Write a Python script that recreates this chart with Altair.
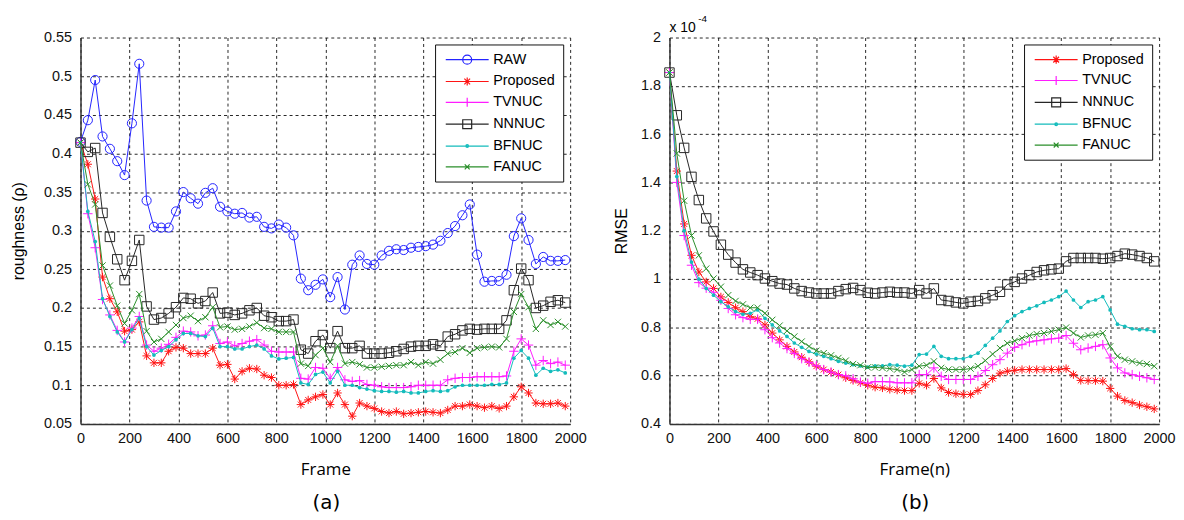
import altair as alt
import pandas as pd

# ---------------- data ----------------
FRAMES = list(range(0, 1981, 30))
X_TICKS = [0, 200, 400, 600, 800, 1000, 1200, 1400, 1600, 1800, 2000]
Y_TICKS_A = [0.05, 0.1, 0.15, 0.2, 0.25, 0.3, 0.35, 0.4, 0.45, 0.5, 0.55]
Y_TICKS_B = [0.4, 0.6, 0.8, 1.0, 1.2, 1.4, 1.6, 1.8, 2.0]

NAMES_A = ["RAW", "Proposed", "TVNUC", "NNNUC", "BFNUC", "FANUC"]
NAMES_B = ["Proposed", "TVNUC", "NNNUC", "BFNUC", "FANUC"]

RAW_A = [0.415, 0.443, 0.495, 0.422, 0.406, 0.390, 0.372, 0.439, 0.516, 0.339,
         0.305, 0.304, 0.304, 0.325, 0.350, 0.342, 0.335, 0.349, 0.355, 0.331,
         0.325, 0.322, 0.323, 0.317, 0.318, 0.305, 0.303, 0.308, 0.304, 0.294,
         0.238, 0.223, 0.230, 0.237, 0.214, 0.240, 0.198, 0.256, 0.268, 0.257,
         0.256, 0.268, 0.274, 0.276, 0.275, 0.278, 0.279, 0.280, 0.282, 0.287,
         0.297, 0.306, 0.320, 0.334, 0.269, 0.234, 0.235, 0.235, 0.243, 0.293,
         0.316, 0.288, 0.257, 0.266, 0.261, 0.261, 0.262]
PROPOSED_A = [0.414, 0.386, 0.341, 0.240, 0.212, 0.195, 0.170, 0.172, 0.182, 0.138,
              0.129, 0.129, 0.144, 0.149, 0.148, 0.141, 0.141, 0.141, 0.148, 0.126,
              0.127, 0.108, 0.118, 0.122, 0.121, 0.113, 0.110, 0.100, 0.100, 0.101,
              0.075, 0.081, 0.085, 0.088, 0.075, 0.090, 0.075, 0.060, 0.077, 0.073,
              0.070, 0.066, 0.064, 0.066, 0.063, 0.064, 0.065, 0.066, 0.065, 0.064,
              0.068, 0.073, 0.073, 0.075, 0.073, 0.071, 0.073, 0.070, 0.073, 0.085,
              0.098, 0.090, 0.077, 0.076, 0.076, 0.077, 0.073]
TVNUC_A = [0.414, 0.322, 0.278, 0.211, 0.191, 0.171, 0.156, 0.174, 0.189, 0.152,
           0.144, 0.148, 0.153, 0.162, 0.170, 0.169, 0.164, 0.165, 0.177, 0.154,
           0.156, 0.151, 0.154, 0.157, 0.159, 0.152, 0.144, 0.143, 0.143, 0.143,
           0.109, 0.108, 0.123, 0.122, 0.109, 0.123, 0.107, 0.105, 0.106, 0.101,
           0.100, 0.098, 0.097, 0.097, 0.097, 0.098, 0.100, 0.100, 0.100, 0.100,
           0.107, 0.109, 0.110, 0.110, 0.111, 0.111, 0.111, 0.111, 0.112, 0.144,
           0.160, 0.152, 0.126, 0.132, 0.128, 0.130, 0.126]
NNNUC_A = [0.414, 0.402, 0.407, 0.323, 0.292, 0.263, 0.236, 0.261, 0.288, 0.202,
           0.185, 0.187, 0.193, 0.201, 0.213, 0.212, 0.206, 0.209, 0.220, 0.193,
           0.194, 0.191, 0.193, 0.197, 0.200, 0.190, 0.188, 0.183, 0.183, 0.185,
           0.146, 0.141, 0.157, 0.165, 0.148, 0.170, 0.148, 0.148, 0.151, 0.141,
           0.141, 0.141, 0.142, 0.144, 0.147, 0.150, 0.151, 0.151, 0.153, 0.151,
           0.163, 0.166, 0.171, 0.173, 0.172, 0.173, 0.173, 0.173, 0.184, 0.223,
           0.251, 0.236, 0.200, 0.203, 0.208, 0.210, 0.207]
BFNUC_A = [0.414, 0.325, 0.286, 0.212, 0.189, 0.169, 0.156, 0.172, 0.187, 0.150,
           0.139, 0.145, 0.150, 0.159, 0.167, 0.167, 0.164, 0.163, 0.174, 0.150,
           0.150, 0.147, 0.147, 0.150, 0.152, 0.147, 0.138, 0.134, 0.135, 0.136,
           0.103, 0.101, 0.114, 0.117, 0.103, 0.118, 0.100, 0.100, 0.097, 0.095,
           0.093, 0.092, 0.092, 0.091, 0.092, 0.090, 0.090, 0.092, 0.093, 0.092,
           0.093, 0.098, 0.100, 0.100, 0.100, 0.100, 0.101, 0.101, 0.103, 0.135,
           0.145, 0.135, 0.113, 0.122, 0.118, 0.120, 0.116]
FANUC_A = [0.414, 0.360, 0.334, 0.255, 0.229, 0.203, 0.180, 0.197, 0.218, 0.170,
           0.156, 0.160, 0.169, 0.178, 0.187, 0.190, 0.183, 0.188, 0.201, 0.175,
           0.176, 0.172, 0.173, 0.176, 0.181, 0.174, 0.173, 0.169, 0.169, 0.169,
           0.128, 0.125, 0.139, 0.148, 0.130, 0.151, 0.128, 0.130, 0.127, 0.123,
           0.123, 0.124, 0.125, 0.126, 0.126, 0.130, 0.126, 0.130, 0.128, 0.133,
           0.141, 0.143, 0.148, 0.142, 0.148, 0.149, 0.150, 0.149, 0.160, 0.195,
           0.218, 0.201, 0.173, 0.184, 0.178, 0.182, 0.176]

# panel (b): RMSE in units of 1e-4
PROPOSED_B = [1.855, 1.447, 1.228, 1.098, 1.029, 0.988, 0.961, 0.926, 0.903, 0.881,
              0.865, 0.844, 0.835, 0.810, 0.776, 0.748, 0.721, 0.698, 0.676, 0.657,
              0.639, 0.625, 0.615, 0.604, 0.591, 0.580, 0.570, 0.560, 0.552, 0.549,
              0.543, 0.540, 0.538, 0.538, 0.568, 0.560, 0.588, 0.549, 0.530, 0.525,
              0.522, 0.522, 0.538, 0.562, 0.588, 0.610, 0.618, 0.622, 0.625, 0.625,
              0.625, 0.625, 0.625, 0.625, 0.629, 0.604, 0.580, 0.579, 0.579, 0.577,
              0.547, 0.515, 0.497, 0.488, 0.478, 0.471, 0.462]
TVNUC_B = [1.855, 1.400, 1.180, 1.057, 0.985, 0.962, 0.945, 0.912, 0.878, 0.852,
           0.840, 0.833, 0.833, 0.790, 0.757, 0.735, 0.712, 0.692, 0.670, 0.655,
           0.641, 0.625, 0.614, 0.604, 0.599, 0.587, 0.573, 0.568, 0.575, 0.575,
           0.574, 0.570, 0.570, 0.570, 0.604, 0.604, 0.632, 0.597, 0.584, 0.584,
           0.584, 0.584, 0.597, 0.621, 0.645, 0.666, 0.693, 0.717, 0.728, 0.739,
           0.744, 0.748, 0.752, 0.755, 0.766, 0.734, 0.707, 0.714, 0.721, 0.728,
           0.673, 0.632, 0.611, 0.604, 0.597, 0.591, 0.584]
NNNUC_B = [1.855, 1.678, 1.543, 1.423, 1.327, 1.251, 1.197, 1.142, 1.101, 1.068,
           1.040, 1.027, 1.016, 1.002, 0.991, 0.981, 0.977, 0.961, 0.950, 0.944,
           0.940, 0.940, 0.940, 0.950, 0.958, 0.963, 0.954, 0.943, 0.940, 0.944,
           0.947, 0.944, 0.944, 0.940, 0.954, 0.940, 0.961, 0.913, 0.909, 0.903,
           0.899, 0.906, 0.909, 0.920, 0.933, 0.947, 0.977, 0.988, 1.002, 1.016,
           1.029, 1.036, 1.040, 1.043, 1.073, 1.087, 1.087, 1.087, 1.087, 1.084,
           1.087, 1.095, 1.105, 1.101, 1.095, 1.087, 1.073]
BFNUC_B = [1.855, 1.424, 1.200, 1.070, 1.000, 0.961, 0.933, 0.906, 0.885, 0.865,
           0.854, 0.858, 0.872, 0.837, 0.810, 0.785, 0.762, 0.735, 0.717, 0.700,
           0.689, 0.680, 0.670, 0.659, 0.652, 0.645, 0.640, 0.635, 0.640, 0.640,
           0.645, 0.643, 0.639, 0.643, 0.687, 0.689, 0.721, 0.680, 0.670, 0.670,
           0.670, 0.680, 0.693, 0.725, 0.755, 0.785, 0.824, 0.848, 0.865, 0.878,
           0.889, 0.903, 0.913, 0.927, 0.950, 0.913, 0.882, 0.906, 0.913, 0.927,
           0.872, 0.813, 0.804, 0.794, 0.790, 0.790, 0.783]
FANUC_B = [1.855, 1.520, 1.324, 1.180, 1.098, 1.043, 1.002, 0.968, 0.933, 0.909,
           0.895, 0.881, 0.881, 0.858, 0.831, 0.807, 0.785, 0.762, 0.741, 0.721,
           0.703, 0.693, 0.684, 0.673, 0.662, 0.648, 0.643, 0.634, 0.634, 0.632,
           0.629, 0.625, 0.615, 0.625, 0.639, 0.643, 0.659, 0.632, 0.625, 0.625,
           0.625, 0.629, 0.639, 0.662, 0.689, 0.714, 0.734, 0.744, 0.755, 0.766,
           0.772, 0.776, 0.783, 0.790, 0.799, 0.776, 0.758, 0.766, 0.769, 0.776,
           0.721, 0.680, 0.666, 0.659, 0.652, 0.648, 0.639]

PANEL_TAGS = ["(a)", "(b)"]
X_TITLES = ["Frame", "Frame(n)"]
Y_TITLES = ["roughness (\u03c1)", "RMSE"]
EXPONENT = ["x 10", "-4"]

# ---------------- styles ----------------
COLOR = {"RAW": "#2424ff", "Proposed": "#ff1414", "TVNUC": "#ff1cff",
         "NNNUC": "#262626", "BFNUC": "#14bcbc", "FANUC": "#2b8f2b"}

STAR = "M-1,0H1M0,-1V1M-0.71,-0.71L0.71,0.71M-0.71,0.71L0.71,-0.71"
PLUS = "M-1,0H1M0,-1V1"
XMARK = "M-1,-1L1,1M-1,1L1,-1"
MARK = {"RAW": ("circle", 85, False), "Proposed": (STAR, 70, False),
        "TVNUC": (PLUS, 90, False), "NNNUC": ("square", 90, False),
        "BFNUC": ("circle", 14, True), "FANUC": (XMARK, 40, False)}

LINE = "M-1,0H8.6"
LEG_PATH = {
    "RAW": LINE + "M2.8,0A1,1 0 1,1 4.8,0A1,1 0 1,1 2.8,0",
    "Proposed": LINE + "M3.8,-0.9V0.9M3.16,-0.64L4.44,0.64M3.16,0.64L4.44,-0.64",
    "TVNUC": LINE + "M3.8,-1V1",
    "NNNUC": LINE + "M2.8,-1H4.8V1H2.8Z",
    "BFNUC": LINE + "M3.5,0A0.3,0.3 0 1,1 4.1,0A0.3,0.3 0 1,1 3.5,0",
    "FANUC": LINE + "M3.25,-0.55L4.35,0.55M3.25,0.55L4.35,-0.55",
}

W, H = 493, 389


def long_df(names, arrays):
    rows = []
    for n, arr in zip(names, arrays):
        for f, v in zip(FRAMES, arr):
            rows.append({"series": n, "frame": f, "value": v})
    return pd.DataFrame(rows)


def panel(df, names, ydom, yvals, yfmt, ytitle, ytitlex, xtitle, tag, extra):
    x = alt.X("frame:Q", scale=alt.Scale(domain=[0, 2000], nice=False, zero=False),
              axis=alt.Axis(values=X_TICKS, format="d", title=xtitle,
                            titleFont="Open Sans", titleFontSize=17,
                            titleFontWeight="normal", titleColor="black",
                            titleY=51, titleBaseline="alphabetic",
                            labelPadding=8))
    y = alt.Y("value:Q", scale=alt.Scale(domain=ydom, nice=False, zero=False),
              axis=alt.Axis(values=yvals, format=yfmt, title=ytitle,
                            titleFont="Liberation Sans", titleFontSize=16,
                            titleFontWeight="normal", titleColor="black",
                            titleX=ytitlex, titleY=H / 2, labelPadding=9))
    base = alt.Chart(df)
    layers = []
    for s in names:
        sub = base.transform_filter(alt.datum.series == s)
        layers.append(sub.mark_line(color=COLOR[s], strokeWidth=1).encode(x=x, y=y))
        shape, size, filled = MARK[s]
        layers.append(sub.mark_point(shape=shape, size=size, filled=filled,
                                     color=COLOR[s], strokeWidth=1, opacity=1)
                      .encode(x=x, y=y))
    leg = alt.Legend(title=None, orient="top-right", offset=7,
                     strokeColor="#111", fillColor="white", padding=8,
                     rowPadding=6, labelFont="Liberation Sans",
                     labelFontSize=14.5, labelColor="black", labelOffset=36,
                     symbolSize=81, symbolStrokeWidth=1.2)
    leg_layer = base.transform_filter("false").mark_point(
        filled=False, opacity=1, strokeWidth=1.2).encode(
        x=x, y=y,
        color=alt.Color("series:N", scale=alt.Scale(domain=names,
                        range=[COLOR[s] for s in names]), legend=leg),
        shape=alt.Shape("series:N", scale=alt.Scale(domain=names,
                        range=[LEG_PATH[s] for s in names]), legend=leg))
    lab = alt.Chart(pd.DataFrame({"t": [tag]})).mark_text(
        font="DejaVu Sans", fontSize=20, baseline="alphabetic", color="black"
    ).encode(text="t:N", x=alt.value(W / 2 + 1), y=alt.value(H + 86))
    return alt.layer(*layers, leg_layer, lab, *extra).properties(width=W, height=H)


df_a = long_df(NAMES_A, [RAW_A, PROPOSED_A, TVNUC_A, NNNUC_A, BFNUC_A, FANUC_A])
df_b = long_df(NAMES_B, [PROPOSED_B, TVNUC_B, NNNUC_B, BFNUC_B, FANUC_B])

exp1 = alt.Chart(pd.DataFrame({"t": [EXPONENT[0]]})).mark_text(
    font="Liberation Sans", fontSize=14, align="left", baseline="alphabetic",
    color="black").encode(text="t:N", x=alt.value(0), y=alt.value(-6))
exp2 = alt.Chart(pd.DataFrame({"t": [EXPONENT[1]]})).mark_text(
    font="Liberation Sans", fontSize=10, align="left", baseline="alphabetic",
    color="black").encode(text="t:N", x=alt.value(29), y=alt.value(-16))

pa = panel(df_a, NAMES_A, [0.05, 0.55], Y_TICKS_A, ".2~f", Y_TITLES[0], -54,
           X_TITLES[0], PANEL_TAGS[0], [])
pb = panel(df_b, NAMES_B, [0.4, 2.0], Y_TICKS_B, ".1~f", Y_TITLES[1], -40,
           X_TITLES[1], PANEL_TAGS[1], [exp1, exp2])

chart = alt.hconcat(pa, pb, spacing=100, bounds="flush").resolve_scale(
    color="independent", shape="independent"
).resolve_legend(color="independent", shape="independent").properties(
    padding={"left": 3, "top": 4, "right": 0, "bottom": 0}
).configure_view(stroke=None).configure_axis(
    grid=True, gridColor="black", gridDash=[3, 3], gridOpacity=0.85, gridWidth=1,
    domainColor="#333333", domainWidth=1.5, ticks=False,
    labelFont="Liberation Sans", labelFontSize=14.5, labelColor="#111111",
    labelFlush=False, labelOverlap=False
)

chart.save("out.html", embed_options={"renderer": "svg", "actions": False})
